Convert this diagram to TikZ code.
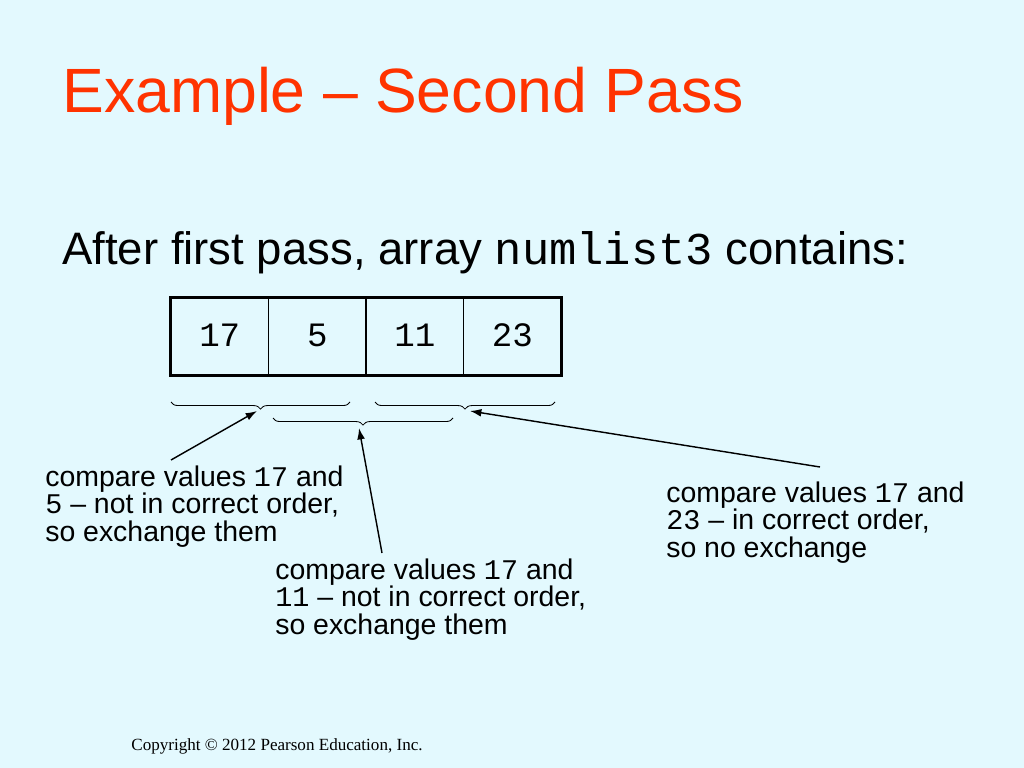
\documentclass[tikz,border=0pt]{standalone}
\usepackage{fontspec}
\setmainfont{Liberation Sans}
\newfontfamily\cour{Liberation Mono}
\newfontfamily\tms{Liberation Serif}
\usetikzlibrary{decorations.pathreplacing,arrows.meta}
\definecolor{slidebg}{RGB}{227,249,254}
\definecolor{titlered}{RGB}{255,51,0}
\newcommand{\nm}[1]{{\cour #1}}
\tikzset{cell/.style={draw,line width=.9pt,minimum width=68.55pt,minimum height=54.14pt,inner sep=0pt,font=\fontsize{24}{24}\cour},
  callout/.style={anchor=base west,align=left,inner sep=0pt,font=\fontsize{20}{19}\selectfont},
  cbrace/.style={decorate,decoration={brace,mirror,amplitude=5pt},line width=.6pt},
  ptr/.style={line width=1pt,-{Latex[length=8pt,width=5.5pt]}}}
\begin{document}
\begin{tikzpicture}[x=0.703125pt,y=-0.703125pt]
  \useasboundingbox[fill=slidebg] (0,0) rectangle (1024,768);
  \node[anchor=base west,inner sep=0pt,text=titlered,font=\fontsize{44}{44}\selectfont] (title) at (62,113) {Example -- Second Pass};
  \node[anchor=base west,inner sep=0pt,font=\fontsize{32}{32}\selectfont] (intro) at (62,265) {After first pass, array \nm{numlist3} contains:};
  \foreach \v [count=\i] in {17,5,11,23} \node[cell] (c\i) at ({122.25+97.5*\i},336.5) {\raisebox{1.6pt}{\v}};
  \draw[line width=2.4pt] (c1.north west) rectangle (c4.south east);
  \draw[cbrace] (171,402) -- (350,402); \draw[cbrace] (273,418) -- (453,418);
  \draw[cbrace] (375,402) -- (555,402);
  \coordinate (t1) at (257,411); \coordinate (t2) at (359,428); \coordinate (t3) at (470,411);
  \node[callout] (n1) at (45,541) {compare values \nm{17} and\\ \nm{5} -- not in correct order,\\ so exchange them};
  \node[callout] (n2) at (275,634) {compare values \nm{17} and\\ \nm{11} -- not in correct order,\\ so exchange them};
  \node[callout] (n3) at (666,557) {compare values \nm{17} and\\ \nm{23} -- in correct order,\\ so no exchange};
  \coordinate (s1) at (171,460); \coordinate (s2) at (382,553); \coordinate (s3) at (820,467);
  \draw[ptr] (s1) -- (t1); \draw[ptr] (s2) -- (t2); \draw[ptr] (s3) -- (t3);
  \node[anchor=base,inner sep=0pt,font=\fontsize{12}{12}\tms] (copy) at (277,750) {Copyright © 2012 Pearson Education, Inc.};
\end{tikzpicture}
\end{document}
